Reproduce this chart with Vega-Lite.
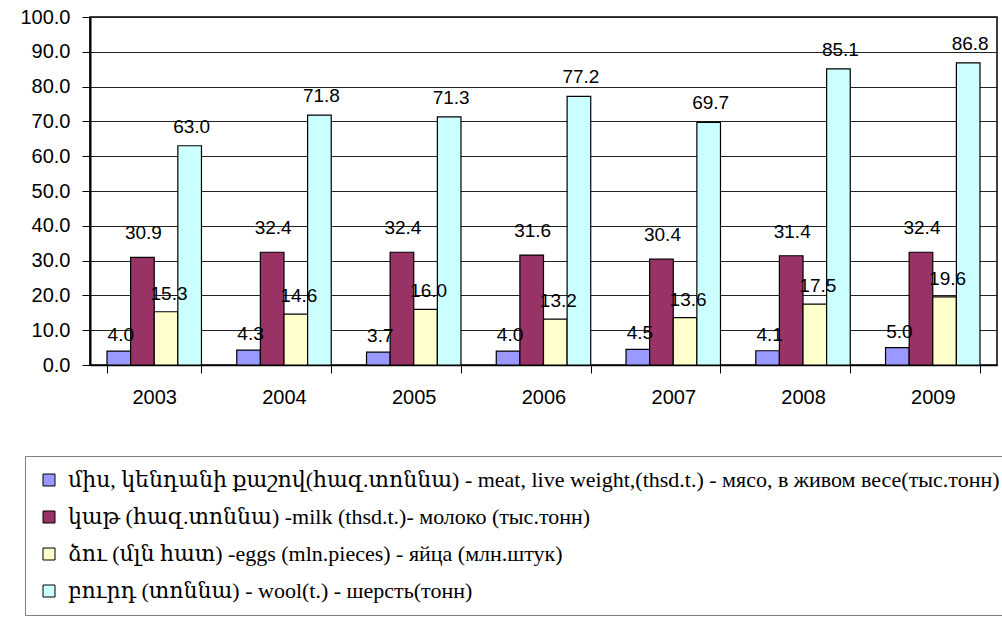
{
  "$schema": "https://vega.github.io/schema/vega-lite/v6.json",
  "autosize": {"type": "none"},
  "width": 907,
  "height": 348,
  "padding": {"left": 90, "top": 17, "right": 5, "bottom": 253},
  "background": "white",
  "config": {
    "view": {"stroke": "#000", "strokeWidth": 1.5},
    "font": "Liberation Sans"
  },
  "data": {
    "values": [
      {"year": "2003", "series": "meat", "value": 4.0},
      {"year": "2003", "series": "milk", "value": 30.9},
      {"year": "2003", "series": "eggs", "value": 15.3},
      {"year": "2003", "series": "wool", "value": 63.0},
      {"year": "2004", "series": "meat", "value": 4.3},
      {"year": "2004", "series": "milk", "value": 32.4},
      {"year": "2004", "series": "eggs", "value": 14.6},
      {"year": "2004", "series": "wool", "value": 71.8},
      {"year": "2005", "series": "meat", "value": 3.7},
      {"year": "2005", "series": "milk", "value": 32.4},
      {"year": "2005", "series": "eggs", "value": 16.0},
      {"year": "2005", "series": "wool", "value": 71.3},
      {"year": "2006", "series": "meat", "value": 4.0},
      {"year": "2006", "series": "milk", "value": 31.6},
      {"year": "2006", "series": "eggs", "value": 13.2},
      {"year": "2006", "series": "wool", "value": 77.2},
      {"year": "2007", "series": "meat", "value": 4.5},
      {"year": "2007", "series": "milk", "value": 30.4},
      {"year": "2007", "series": "eggs", "value": 13.6},
      {"year": "2007", "series": "wool", "value": 69.7},
      {"year": "2008", "series": "meat", "value": 4.1},
      {"year": "2008", "series": "milk", "value": 31.4},
      {"year": "2008", "series": "eggs", "value": 17.5},
      {"year": "2008", "series": "wool", "value": 85.1},
      {"year": "2009", "series": "meat", "value": 5.0},
      {"year": "2009", "series": "milk", "value": 32.4},
      {"year": "2009", "series": "eggs", "value": 19.6},
      {"year": "2009", "series": "wool", "value": 86.8}
    ]
  },
  "encoding": {
    "x": {
      "field": "year", "type": "nominal",
      "scale": {"paddingInner": 0.272, "paddingOuter": 0.131, "align": 0.5},
      "axis": {
        "title": null, "labelAngle": 0, "labelFontSize": 20, "labelColor": "#000",
        "labelPadding": 14, "tickBand": "extent", "tickSize": 8, "tickColor": "#000",
        "domainColor": "#000", "domainWidth": 1.5, "grid": false, "labelFont": "Liberation Sans"
      }
    },
    "xOffset": {"field": "series", "type": "nominal", "sort": ["meat", "milk", "eggs", "wool"]},
    "y": {
      "field": "value", "type": "quantitative",
      "scale": {"domain": [0, 100], "nice": false},
      "axis": {
        "title": null, "values": [0, 10, 20, 30, 40, 50, 60, 70, 80, 90, 100], "format": ".1f",
        "labelFontSize": 20, "labelColor": "#000", "labelPadding": 12, "tickSize": 8,
        "tickColor": "#000", "domainColor": "#000", "domainWidth": 2,
        "gridColor": "#222", "gridWidth": 1, "labelFont": "Liberation Sans"
      }
    }
  },
  "layer": [
    {
      "mark": {"type": "bar", "stroke": "#000", "strokeWidth": 1.2},
      "encoding": {
        "color": {
          "field": "series", "type": "nominal",
          "scale": {
            "domain": ["meat", "milk", "eggs", "wool"],
            "range": ["#9999FF", "#993366", "#FFFFCC", "#CCFFFF"]
          },
          "legend": {
            "title": null, "orient": "none", "legendX": -65, "legendY": 439,
            "direction": "vertical", "padding": 13, "rowPadding": 15,
            "fillColor": "white", "strokeColor": "#808080",
            "symbolType": "square", "symbolSize": 144, "symbolStrokeColor": "#000",
            "symbolStrokeWidth": 1, "symbolOffset": 0,
            "labelFont": "Liberation Serif, DejaVu Serif", "labelFontSize": 22,
            "labelColor": "#000", "labelLimit": 0, "labelOffset": 8,
            "labelExpr": "datum.value == 'meat' ? 'միս, կենդանի քաշով(հազ.տոննա) - meat, live weight,(thsd.t.) - мясо, в живом весе(тыс.тонн)' : datum.value == 'milk' ? 'կաթ (հազ.տոննա) -milk (thsd.t.)- молоко (тыс.тонн)' : datum.value == 'eggs' ? 'ձու (մլն հատ) -eggs (mln.pieces) - яйца (млн.штук)' : 'բուրդ (տոննա) - wool(t.) - шерсть(тонн)'"
          }
        }
      }
    },
    {
      "mark": {"type": "text", "fontSize": 19, "font": "Liberation Sans", "color": "#000", "baseline": "alphabetic", "dy": -10, "dx": 2},
      "transform": [{"filter": "datum.series == 'meat'"}],
      "encoding": {"text": {"field": "value", "type": "quantitative", "format": ".1f"}}
    },
    {
      "mark": {"type": "text", "fontSize": 19, "font": "Liberation Sans", "color": "#000", "baseline": "alphabetic", "dy": -18, "dx": 1},
      "transform": [{"filter": "datum.series == 'milk'"}],
      "encoding": {"text": {"field": "value", "type": "quantitative", "format": ".1f"}}
    },
    {
      "mark": {"type": "text", "fontSize": 19, "font": "Liberation Sans", "color": "#000", "baseline": "alphabetic", "dy": -12, "dx": 3},
      "transform": [{"filter": "datum.series == 'eggs'"}],
      "encoding": {"text": {"field": "value", "type": "quantitative", "format": ".1f"}}
    },
    {
      "mark": {"type": "text", "fontSize": 19, "font": "Liberation Sans", "color": "#000", "baseline": "alphabetic", "dy": -13, "dx": 2},
      "transform": [{"filter": "datum.series == 'wool'"}],
      "encoding": {"text": {"field": "value", "type": "quantitative", "format": ".1f"}}
    }
  ]
}
